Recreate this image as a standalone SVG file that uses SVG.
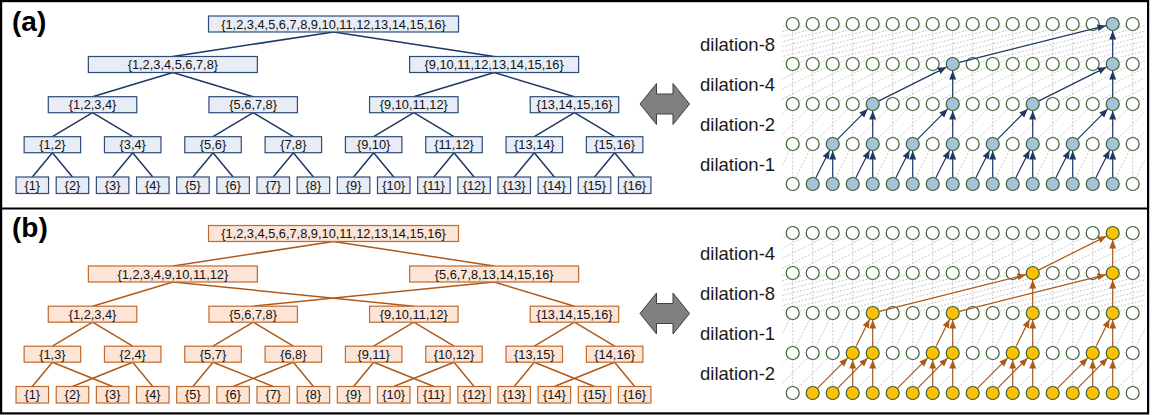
<svg xmlns="http://www.w3.org/2000/svg" width="1152" height="415" viewBox="0 0 1152 415">
<defs>
<style>
.na{fill:#E7ECF5;stroke:#2F4B78;stroke-width:1.2}
.nb{fill:#FCE4D6;stroke:#BF6A2E;stroke-width:1.2}
.t{font-family:"Liberation Sans",Arial,sans-serif;font-size:12.8px;fill:#111;text-anchor:middle}
.ea{stroke:#1F3864;stroke-width:1.5;fill:none}
.eb{stroke:#B05A1A;stroke-width:1.5;fill:none}
.dl{fill:none;stroke:#BDBDBD;stroke-width:0.8;stroke-dasharray:2 1.6}
.c{fill:#fff;stroke:#3B6132;stroke-width:1.2}
.fa{fill:#A7C1DB}
.fb{fill:#FFC000}
.aa{stroke:#1F3864;stroke-width:1.2;fill:none;marker-end:url(#ma)}
.ab{stroke:#B05A1A;stroke-width:1.2;fill:none;marker-end:url(#mb)}
.lbl{font-family:"Liberation Sans",Arial,sans-serif;font-size:18.5px;fill:#1a1a1a}
.tag{font-family:"Liberation Sans",Arial,sans-serif;font-weight:bold;font-size:28px;fill:#000}
.dbl{fill:#808080;stroke:#404040;stroke-width:1}
</style>
<marker id="ma" markerUnits="userSpaceOnUse" markerWidth="9" markerHeight="8" refX="8.5" refY="4" orient="auto"><path d="M0,0.5 L8.5,4 L0,7.5 z" fill="#1F3864"/></marker>
<marker id="mb" markerUnits="userSpaceOnUse" markerWidth="9" markerHeight="8" refX="8.5" refY="4" orient="auto"><path d="M0,0.5 L8.5,4 L0,7.5 z" fill="#B05A1A"/></marker>
<clipPath id="gc" clipPathUnits="userSpaceOnUse"><rect x="-11" y="0" width="363" height="200"/></clipPath>
</defs>
<rect x="0" y="0" width="1152" height="415" fill="#fff"/>
<rect x="1.1" y="1.1" width="1147" height="412.3" fill="#fff" stroke="#000" stroke-width="2.2"/>
<line x1="1" y1="208.5" x2="1148" y2="208.5" stroke="#000" stroke-width="2.2"/>
<text class="tag" x="12" y="31">(a)</text>
<text class="tag" x="12" y="237">(b)</text>

<!-- ===== Tree (a) ===== -->
<g id="tree-a-connectors">
<path class="ea" d="M333.5,32L172.86,56.5M333.5,32L494.14,56.5M172.86,72.5L92.54,96.7M172.86,72.5L253.18,96.7M494.14,72.5L413.82,96.7M494.14,72.5L574.46,96.7M92.54,112.7L52.38,136.7M92.54,112.7L132.7,136.7M253.18,112.7L213.02,136.7M253.18,112.7L293.34,136.7M413.82,112.7L373.66,136.7M413.82,112.7L453.98,136.7M574.46,112.7L534.3,136.7M574.46,112.7L614.62,136.7M52.38,152.7L32.3,177M52.38,152.7L72.46,177M132.7,152.7L112.62,177M132.7,152.7L152.78,177M213.02,152.7L192.94,177M213.02,152.7L233.1,177M293.34,152.7L273.26,177M293.34,152.7L313.42,177M373.66,152.7L353.58,177M373.66,152.7L393.74,177M453.98,152.7L433.9,177M453.98,152.7L474.06,177M534.3,152.7L514.22,177M534.3,152.7L554.38,177M614.62,152.7L594.54,177M614.62,152.7L634.7,177"/>
</g>
<g id="tree-a">
<g id="a-root"><rect class="na" x="208.5" y="16" width="250" height="16"/><text class="t" x="333.5" y="28.6">{1,2,3,4,5,6,7,8,9,10,11,12,13,14,15,16}</text></g>
<g id="a-l1-0"><rect class="na" x="88.36" y="56.5" width="169" height="16"/><text class="t" x="172.86" y="69.1">{1,2,3,4,5,6,7,8}</text></g>
<g id="a-l1-1"><rect class="na" x="409.64" y="56.5" width="169" height="16"/><text class="t" x="494.14" y="69.1">{9,10,11,12,13,14,15,16}</text></g>
<g id="a-l2-0"><rect class="na" x="48.29" y="96.7" width="88.5" height="16"/><text class="t" x="92.54" y="109.3">{1,2,3,4}</text></g>
<g id="a-l2-1"><rect class="na" x="208.93" y="96.7" width="88.5" height="16"/><text class="t" x="253.18" y="109.3">{5,6,7,8}</text></g>
<g id="a-l2-2"><rect class="na" x="369.57" y="96.7" width="88.5" height="16"/><text class="t" x="413.82" y="109.3">{9,10,11,12}</text></g>
<g id="a-l2-3"><rect class="na" x="530.21" y="96.7" width="88.5" height="16"/><text class="t" x="574.46" y="109.3">{13,14,15,16}</text></g>
<g id="a-l3-0"><rect class="na" x="24.13" y="136.7" width="56.5" height="16"/><text class="t" x="52.38" y="149.3">{1,2}</text></g>
<g id="a-l3-1"><rect class="na" x="104.45" y="136.7" width="56.5" height="16"/><text class="t" x="132.7" y="149.3">{3,4}</text></g>
<g id="a-l3-2"><rect class="na" x="184.77" y="136.7" width="56.5" height="16"/><text class="t" x="213.02" y="149.3">{5,6}</text></g>
<g id="a-l3-3"><rect class="na" x="265.09" y="136.7" width="56.5" height="16"/><text class="t" x="293.34" y="149.3">{7,8}</text></g>
<g id="a-l3-4"><rect class="na" x="345.41" y="136.7" width="56.5" height="16"/><text class="t" x="373.66" y="149.3">{9,10}</text></g>
<g id="a-l3-5"><rect class="na" x="425.73" y="136.7" width="56.5" height="16"/><text class="t" x="453.98" y="149.3">{11,12}</text></g>
<g id="a-l3-6"><rect class="na" x="506.05" y="136.7" width="56.5" height="16"/><text class="t" x="534.3" y="149.3">{13,14}</text></g>
<g id="a-l3-7"><rect class="na" x="586.37" y="136.7" width="56.5" height="16"/><text class="t" x="614.62" y="149.3">{15,16}</text></g>
<g id="a-leaf-1"><rect class="na" x="16.05" y="177" width="32.5" height="16.5"/><text class="t" x="32.3" y="189.8">{1}</text></g>
<g id="a-leaf-2"><rect class="na" x="56.21" y="177" width="32.5" height="16.5"/><text class="t" x="72.46" y="189.8">{2}</text></g>
<g id="a-leaf-3"><rect class="na" x="96.37" y="177" width="32.5" height="16.5"/><text class="t" x="112.62" y="189.8">{3}</text></g>
<g id="a-leaf-4"><rect class="na" x="136.53" y="177" width="32.5" height="16.5"/><text class="t" x="152.78" y="189.8">{4}</text></g>
<g id="a-leaf-5"><rect class="na" x="176.69" y="177" width="32.5" height="16.5"/><text class="t" x="192.94" y="189.8">{5}</text></g>
<g id="a-leaf-6"><rect class="na" x="216.85" y="177" width="32.5" height="16.5"/><text class="t" x="233.1" y="189.8">{6}</text></g>
<g id="a-leaf-7"><rect class="na" x="257.01" y="177" width="32.5" height="16.5"/><text class="t" x="273.26" y="189.8">{7}</text></g>
<g id="a-leaf-8"><rect class="na" x="297.17" y="177" width="32.5" height="16.5"/><text class="t" x="313.42" y="189.8">{8}</text></g>
<g id="a-leaf-9"><rect class="na" x="337.33" y="177" width="32.5" height="16.5"/><text class="t" x="353.58" y="189.8">{9}</text></g>
<g id="a-leaf-10"><rect class="na" x="377.49" y="177" width="32.5" height="16.5"/><text class="t" x="393.74" y="189.8">{10}</text></g>
<g id="a-leaf-11"><rect class="na" x="417.65" y="177" width="32.5" height="16.5"/><text class="t" x="433.9" y="189.8">{11}</text></g>
<g id="a-leaf-12"><rect class="na" x="457.81" y="177" width="32.5" height="16.5"/><text class="t" x="474.06" y="189.8">{12}</text></g>
<g id="a-leaf-13"><rect class="na" x="497.97" y="177" width="32.5" height="16.5"/><text class="t" x="514.22" y="189.8">{13}</text></g>
<g id="a-leaf-14"><rect class="na" x="538.13" y="177" width="32.5" height="16.5"/><text class="t" x="554.38" y="189.8">{14}</text></g>
<g id="a-leaf-15"><rect class="na" x="578.29" y="177" width="32.5" height="16.5"/><text class="t" x="594.54" y="189.8">{15}</text></g>
<g id="a-leaf-16"><rect class="na" x="618.45" y="177" width="32.5" height="16.5"/><text class="t" x="634.7" y="189.8">{16}</text></g>
</g>

<!-- ===== Tree (b) ===== -->
<g transform="translate(0,209.5)">
<g id="tree-b-connectors">
<path class="eb" d="M333.5,32L172.86,56.5M333.5,32L494.14,56.5M172.86,72.5L92.54,96.7M172.86,72.5L413.82,96.7M494.14,72.5L253.18,96.7M494.14,72.5L574.46,96.7M92.54,112.7L52.38,136.7M92.54,112.7L132.7,136.7M253.18,112.7L213.02,136.7M253.18,112.7L293.34,136.7M413.82,112.7L373.66,136.7M413.82,112.7L453.98,136.7M574.46,112.7L534.3,136.7M574.46,112.7L614.62,136.7M52.38,152.7L32.3,177M52.38,152.7L112.62,177M132.7,152.7L72.46,177M132.7,152.7L152.78,177M213.02,152.7L192.94,177M213.02,152.7L273.26,177M293.34,152.7L233.1,177M293.34,152.7L313.42,177M373.66,152.7L353.58,177M373.66,152.7L433.9,177M453.98,152.7L393.74,177M453.98,152.7L474.06,177M534.3,152.7L514.22,177M534.3,152.7L594.54,177M614.62,152.7L554.38,177M614.62,152.7L634.7,177"/>
</g>
<g id="tree-b">
<g id="b-root"><rect class="nb" x="208.5" y="16" width="250" height="16"/><text class="t" x="333.5" y="28.6">{1,2,3,4,5,6,7,8,9,10,11,12,13,14,15,16}</text></g>
<g id="b-l1-0"><rect class="nb" x="88.36" y="56.5" width="169" height="16"/><text class="t" x="172.86" y="69.1">{1,2,3,4,9,10,11,12}</text></g>
<g id="b-l1-1"><rect class="nb" x="409.64" y="56.5" width="169" height="16"/><text class="t" x="494.14" y="69.1">{5,6,7,8,13,14,15,16}</text></g>
<g id="b-l2-0"><rect class="nb" x="48.29" y="96.7" width="88.5" height="16"/><text class="t" x="92.54" y="109.3">{1,2,3,4}</text></g>
<g id="b-l2-1"><rect class="nb" x="208.93" y="96.7" width="88.5" height="16"/><text class="t" x="253.18" y="109.3">{5,6,7,8}</text></g>
<g id="b-l2-2"><rect class="nb" x="369.57" y="96.7" width="88.5" height="16"/><text class="t" x="413.82" y="109.3">{9,10,11,12}</text></g>
<g id="b-l2-3"><rect class="nb" x="530.21" y="96.7" width="88.5" height="16"/><text class="t" x="574.46" y="109.3">{13,14,15,16}</text></g>
<g id="b-l3-0"><rect class="nb" x="24.13" y="136.7" width="56.5" height="16"/><text class="t" x="52.38" y="149.3">{1,3}</text></g>
<g id="b-l3-1"><rect class="nb" x="104.45" y="136.7" width="56.5" height="16"/><text class="t" x="132.7" y="149.3">{2,4}</text></g>
<g id="b-l3-2"><rect class="nb" x="184.77" y="136.7" width="56.5" height="16"/><text class="t" x="213.02" y="149.3">{5,7}</text></g>
<g id="b-l3-3"><rect class="nb" x="265.09" y="136.7" width="56.5" height="16"/><text class="t" x="293.34" y="149.3">{6,8}</text></g>
<g id="b-l3-4"><rect class="nb" x="345.41" y="136.7" width="56.5" height="16"/><text class="t" x="373.66" y="149.3">{9,11}</text></g>
<g id="b-l3-5"><rect class="nb" x="425.73" y="136.7" width="56.5" height="16"/><text class="t" x="453.98" y="149.3">{10,12}</text></g>
<g id="b-l3-6"><rect class="nb" x="506.05" y="136.7" width="56.5" height="16"/><text class="t" x="534.3" y="149.3">{13,15}</text></g>
<g id="b-l3-7"><rect class="nb" x="586.37" y="136.7" width="56.5" height="16"/><text class="t" x="614.62" y="149.3">{14,16}</text></g>
<g id="b-leaf-1"><rect class="nb" x="16.05" y="177" width="32.5" height="16.5"/><text class="t" x="32.3" y="189.8">{1}</text></g>
<g id="b-leaf-2"><rect class="nb" x="56.21" y="177" width="32.5" height="16.5"/><text class="t" x="72.46" y="189.8">{2}</text></g>
<g id="b-leaf-3"><rect class="nb" x="96.37" y="177" width="32.5" height="16.5"/><text class="t" x="112.62" y="189.8">{3}</text></g>
<g id="b-leaf-4"><rect class="nb" x="136.53" y="177" width="32.5" height="16.5"/><text class="t" x="152.78" y="189.8">{4}</text></g>
<g id="b-leaf-5"><rect class="nb" x="176.69" y="177" width="32.5" height="16.5"/><text class="t" x="192.94" y="189.8">{5}</text></g>
<g id="b-leaf-6"><rect class="nb" x="216.85" y="177" width="32.5" height="16.5"/><text class="t" x="233.1" y="189.8">{6}</text></g>
<g id="b-leaf-7"><rect class="nb" x="257.01" y="177" width="32.5" height="16.5"/><text class="t" x="273.26" y="189.8">{7}</text></g>
<g id="b-leaf-8"><rect class="nb" x="297.17" y="177" width="32.5" height="16.5"/><text class="t" x="313.42" y="189.8">{8}</text></g>
<g id="b-leaf-9"><rect class="nb" x="337.33" y="177" width="32.5" height="16.5"/><text class="t" x="353.58" y="189.8">{9}</text></g>
<g id="b-leaf-10"><rect class="nb" x="377.49" y="177" width="32.5" height="16.5"/><text class="t" x="393.74" y="189.8">{10}</text></g>
<g id="b-leaf-11"><rect class="nb" x="417.65" y="177" width="32.5" height="16.5"/><text class="t" x="433.9" y="189.8">{11}</text></g>
<g id="b-leaf-12"><rect class="nb" x="457.81" y="177" width="32.5" height="16.5"/><text class="t" x="474.06" y="189.8">{12}</text></g>
<g id="b-leaf-13"><rect class="nb" x="497.97" y="177" width="32.5" height="16.5"/><text class="t" x="514.22" y="189.8">{13}</text></g>
<g id="b-leaf-14"><rect class="nb" x="538.13" y="177" width="32.5" height="16.5"/><text class="t" x="554.38" y="189.8">{14}</text></g>
<g id="b-leaf-15"><rect class="nb" x="578.29" y="177" width="32.5" height="16.5"/><text class="t" x="594.54" y="189.8">{15}</text></g>
<g id="b-leaf-16"><rect class="nb" x="618.45" y="177" width="32.5" height="16.5"/><text class="t" x="634.7" y="189.8">{16}</text></g>
</g>
</g>

<!-- double arrows -->
<polygon id="dbl-a" class="dbl" points="640,104 656.5,83.5 656.5,94 673,94 673,83.5 689.5,104 673,124.5 673,114 656.5,114 656.5,124.5"/>
<polygon id="dbl-b" class="dbl" transform="translate(0,209.5)" points="640,104 656.5,83.5 656.5,94 673,94 673,83.5 689.5,104 673,124.5 673,114 656.5,114 656.5,124.5"/>

<!-- labels -->
<text class="lbl" x="700" y="50.5">dilation-8</text>
<text class="lbl" x="700" y="90.5">dilation-4</text>
<text class="lbl" x="700" y="130.5">dilation-2</text>
<text class="lbl" x="700" y="170.5">dilation-1</text>
<text class="lbl" x="700" y="259.5">dilation-4</text>
<text class="lbl" x="700" y="299.5">dilation-8</text>
<text class="lbl" x="700" y="339.5">dilation-1</text>
<text class="lbl" x="700" y="379.5">dilation-2</text>

<!-- ===== Grid (a) ===== -->
<g id="grid-a" transform="translate(792.7,0)">
<path class="dl" clip-path="url(#gc)" d="M0,24V184M20,24V184M40,24V184M60,24V184M80,24V184M100,24V184M120,24V184M140,24V184M160,24V184M180,24V184M200,24V184M220,24V184M240,24V184M260,24V184M280,24V184M300,24V184M320,24V184M340,24V184
M-20,184l20,-40m0,40l20,-40m0,40l20,-40m0,40l20,-40m0,40l20,-40m0,40l20,-40m0,40l20,-40m0,40l20,-40m0,40l20,-40m0,40l20,-40m0,40l20,-40m0,40l20,-40m0,40l20,-40m0,40l20,-40m0,40l20,-40m0,40l20,-40m0,40l20,-40m0,40l20,-40m0,40l20,-40m0,40l20,-40m0,40
M-40,144l40,-40m-20,40l40,-40m-20,40l40,-40m-20,40l40,-40m-20,40l40,-40m-20,40l40,-40m-20,40l40,-40m-20,40l40,-40m-20,40l40,-40m-20,40l40,-40m-20,40l40,-40m-20,40l40,-40m-20,40l40,-40m-20,40l40,-40m-20,40l40,-40m-20,40l40,-40m-20,40l40,-40m-20,40l40,-40m-20,40l40,-40m-20,40l40,-40m-20,40
M-80,104l80,-40m-60,40l80,-40m-60,40l80,-40m-60,40l80,-40m-60,40l80,-40m-60,40l80,-40m-60,40l80,-40m-60,40l80,-40m-60,40l80,-40m-60,40l80,-40m-60,40l80,-40m-60,40l80,-40m-60,40l80,-40m-60,40l80,-40m-60,40l80,-40m-60,40l80,-40m-60,40l80,-40m-60,40l80,-40m-60,40l80,-40m-60,40l80,-40m-60,40l80,-40m-60,40l80,-40m-60,40
M-160,64l160,-40m-140,40l160,-40m-140,40l160,-40m-140,40l160,-40m-140,40l160,-40m-140,40l160,-40m-140,40l160,-40m-140,40l160,-40m-140,40l160,-40m-140,40l160,-40m-140,40l160,-40m-140,40l160,-40m-140,40l160,-40m-140,40l160,-40m-140,40l160,-40m-140,40l160,-40m-140,40l160,-40m-140,40l160,-40m-140,40l160,-40m-140,40l160,-40m-140,40l160,-40m-140,40l160,-40m-140,40l160,-40m-140,40l160,-40m-140,40l160,-40m-140,40l160,-40m-140,40"/>
<g id="a-row0">
<circle id="a0-0" class="c" cx="0" cy="184" r="6.5"/><circle id="a0-1" class="c fa" cx="20" cy="184" r="6.5"/><circle id="a0-2" class="c fa" cx="40" cy="184" r="6.5"/><circle id="a0-3" class="c fa" cx="60" cy="184" r="6.5"/><circle id="a0-4" class="c fa" cx="80" cy="184" r="6.5"/><circle id="a0-5" class="c fa" cx="100" cy="184" r="6.5"/><circle id="a0-6" class="c fa" cx="120" cy="184" r="6.5"/><circle id="a0-7" class="c fa" cx="140" cy="184" r="6.5"/><circle id="a0-8" class="c fa" cx="160" cy="184" r="6.5"/><circle id="a0-9" class="c fa" cx="180" cy="184" r="6.5"/><circle id="a0-10" class="c fa" cx="200" cy="184" r="6.5"/><circle id="a0-11" class="c fa" cx="220" cy="184" r="6.5"/><circle id="a0-12" class="c fa" cx="240" cy="184" r="6.5"/><circle id="a0-13" class="c fa" cx="260" cy="184" r="6.5"/><circle id="a0-14" class="c fa" cx="280" cy="184" r="6.5"/><circle id="a0-15" class="c fa" cx="300" cy="184" r="6.5"/><circle id="a0-16" class="c fa" cx="320" cy="184" r="6.5"/><circle id="a0-17" class="c" cx="340" cy="184" r="6.5"/>
</g>
<g id="a-row1">
<circle id="a1-0" class="c" cx="0" cy="144" r="6.5"/><circle id="a1-1" class="c" cx="20" cy="144" r="6.5"/><circle id="a1-2" class="c fa" cx="40" cy="144" r="6.5"/><circle id="a1-3" class="c" cx="60" cy="144" r="6.5"/><circle id="a1-4" class="c fa" cx="80" cy="144" r="6.5"/><circle id="a1-5" class="c" cx="100" cy="144" r="6.5"/><circle id="a1-6" class="c fa" cx="120" cy="144" r="6.5"/><circle id="a1-7" class="c" cx="140" cy="144" r="6.5"/><circle id="a1-8" class="c fa" cx="160" cy="144" r="6.5"/><circle id="a1-9" class="c" cx="180" cy="144" r="6.5"/><circle id="a1-10" class="c fa" cx="200" cy="144" r="6.5"/><circle id="a1-11" class="c" cx="220" cy="144" r="6.5"/><circle id="a1-12" class="c fa" cx="240" cy="144" r="6.5"/><circle id="a1-13" class="c" cx="260" cy="144" r="6.5"/><circle id="a1-14" class="c fa" cx="280" cy="144" r="6.5"/><circle id="a1-15" class="c" cx="300" cy="144" r="6.5"/><circle id="a1-16" class="c fa" cx="320" cy="144" r="6.5"/><circle id="a1-17" class="c" cx="340" cy="144" r="6.5"/>
</g>
<g id="a-row2">
<circle id="a2-0" class="c" cx="0" cy="104" r="6.5"/><circle id="a2-1" class="c" cx="20" cy="104" r="6.5"/><circle id="a2-2" class="c" cx="40" cy="104" r="6.5"/><circle id="a2-3" class="c" cx="60" cy="104" r="6.5"/><circle id="a2-4" class="c fa" cx="80" cy="104" r="6.5"/><circle id="a2-5" class="c" cx="100" cy="104" r="6.5"/><circle id="a2-6" class="c" cx="120" cy="104" r="6.5"/><circle id="a2-7" class="c" cx="140" cy="104" r="6.5"/><circle id="a2-8" class="c fa" cx="160" cy="104" r="6.5"/><circle id="a2-9" class="c" cx="180" cy="104" r="6.5"/><circle id="a2-10" class="c" cx="200" cy="104" r="6.5"/><circle id="a2-11" class="c" cx="220" cy="104" r="6.5"/><circle id="a2-12" class="c fa" cx="240" cy="104" r="6.5"/><circle id="a2-13" class="c" cx="260" cy="104" r="6.5"/><circle id="a2-14" class="c" cx="280" cy="104" r="6.5"/><circle id="a2-15" class="c" cx="300" cy="104" r="6.5"/><circle id="a2-16" class="c fa" cx="320" cy="104" r="6.5"/><circle id="a2-17" class="c" cx="340" cy="104" r="6.5"/>
</g>
<g id="a-row3">
<circle id="a3-0" class="c" cx="0" cy="64" r="6.5"/><circle id="a3-1" class="c" cx="20" cy="64" r="6.5"/><circle id="a3-2" class="c" cx="40" cy="64" r="6.5"/><circle id="a3-3" class="c" cx="60" cy="64" r="6.5"/><circle id="a3-4" class="c" cx="80" cy="64" r="6.5"/><circle id="a3-5" class="c" cx="100" cy="64" r="6.5"/><circle id="a3-6" class="c" cx="120" cy="64" r="6.5"/><circle id="a3-7" class="c" cx="140" cy="64" r="6.5"/><circle id="a3-8" class="c fa" cx="160" cy="64" r="6.5"/><circle id="a3-9" class="c" cx="180" cy="64" r="6.5"/><circle id="a3-10" class="c" cx="200" cy="64" r="6.5"/><circle id="a3-11" class="c" cx="220" cy="64" r="6.5"/><circle id="a3-12" class="c" cx="240" cy="64" r="6.5"/><circle id="a3-13" class="c" cx="260" cy="64" r="6.5"/><circle id="a3-14" class="c" cx="280" cy="64" r="6.5"/><circle id="a3-15" class="c" cx="300" cy="64" r="6.5"/><circle id="a3-16" class="c fa" cx="320" cy="64" r="6.5"/><circle id="a3-17" class="c" cx="340" cy="64" r="6.5"/>
</g>
<g id="a-row4">
<circle id="a4-0" class="c" cx="0" cy="24" r="6.5"/><circle id="a4-1" class="c" cx="20" cy="24" r="6.5"/><circle id="a4-2" class="c" cx="40" cy="24" r="6.5"/><circle id="a4-3" class="c" cx="60" cy="24" r="6.5"/><circle id="a4-4" class="c" cx="80" cy="24" r="6.5"/><circle id="a4-5" class="c" cx="100" cy="24" r="6.5"/><circle id="a4-6" class="c" cx="120" cy="24" r="6.5"/><circle id="a4-7" class="c" cx="140" cy="24" r="6.5"/><circle id="a4-8" class="c" cx="160" cy="24" r="6.5"/><circle id="a4-9" class="c" cx="180" cy="24" r="6.5"/><circle id="a4-10" class="c" cx="200" cy="24" r="6.5"/><circle id="a4-11" class="c" cx="220" cy="24" r="6.5"/><circle id="a4-12" class="c" cx="240" cy="24" r="6.5"/><circle id="a4-13" class="c" cx="260" cy="24" r="6.5"/><circle id="a4-14" class="c" cx="280" cy="24" r="6.5"/><circle id="a4-15" class="c" cx="300" cy="24" r="6.5"/><circle id="a4-16" class="c fa" cx="320" cy="24" r="6.5"/><circle id="a4-17" class="c" cx="340" cy="24" r="6.5"/>
</g>
<g id="grid-a-connectors">
<line class="aa" x1="23.13" y1="177.74" x2="36.87" y2="150.26"/><line class="aa" x1="40" y1="177" x2="40" y2="151"/>
<line class="aa" x1="63.13" y1="177.74" x2="76.87" y2="150.26"/><line class="aa" x1="80" y1="177" x2="80" y2="151"/>
<line class="aa" x1="103.13" y1="177.74" x2="116.87" y2="150.26"/><line class="aa" x1="120" y1="177" x2="120" y2="151"/>
<line class="aa" x1="143.13" y1="177.74" x2="156.87" y2="150.26"/><line class="aa" x1="160" y1="177" x2="160" y2="151"/>
<line class="aa" x1="183.13" y1="177.74" x2="196.87" y2="150.26"/><line class="aa" x1="200" y1="177" x2="200" y2="151"/>
<line class="aa" x1="223.13" y1="177.74" x2="236.87" y2="150.26"/><line class="aa" x1="240" y1="177" x2="240" y2="151"/>
<line class="aa" x1="263.13" y1="177.74" x2="276.87" y2="150.26"/><line class="aa" x1="280" y1="177" x2="280" y2="151"/>
<line class="aa" x1="303.13" y1="177.74" x2="316.87" y2="150.26"/><line class="aa" x1="320" y1="177" x2="320" y2="151"/>
<line class="aa" x1="44.95" y1="139.05" x2="75.05" y2="108.95"/><line class="aa" x1="80" y1="137" x2="80" y2="111"/>
<line class="aa" x1="124.95" y1="139.05" x2="155.05" y2="108.95"/><line class="aa" x1="160" y1="137" x2="160" y2="111"/>
<line class="aa" x1="204.95" y1="139.05" x2="235.05" y2="108.95"/><line class="aa" x1="240" y1="137" x2="240" y2="111"/>
<line class="aa" x1="284.95" y1="139.05" x2="315.05" y2="108.95"/><line class="aa" x1="320" y1="137" x2="320" y2="111"/>
<line class="aa" x1="86.26" y1="100.87" x2="153.74" y2="67.13"/><line class="aa" x1="160" y1="97" x2="160" y2="71"/>
<line class="aa" x1="246.26" y1="100.87" x2="313.74" y2="67.13"/><line class="aa" x1="320" y1="97" x2="320" y2="71"/>
<line class="aa" x1="166.79" y1="62.3" x2="313.21" y2="25.7"/><line class="aa" x1="320" y1="57" x2="320" y2="31"/>
</g>
</g>

<!-- ===== Grid (b) ===== -->
<g id="grid-b" transform="translate(792.7,209)">
<path class="dl" clip-path="url(#gc)" d="M0,24V184M20,24V184M40,24V184M60,24V184M80,24V184M100,24V184M120,24V184M140,24V184M160,24V184M180,24V184M200,24V184M220,24V184M240,24V184M260,24V184M280,24V184M300,24V184M320,24V184M340,24V184
M-40,184l40,-40m-20,40l40,-40m-20,40l40,-40m-20,40l40,-40m-20,40l40,-40m-20,40l40,-40m-20,40l40,-40m-20,40l40,-40m-20,40l40,-40m-20,40l40,-40m-20,40l40,-40m-20,40l40,-40m-20,40l40,-40m-20,40l40,-40m-20,40l40,-40m-20,40l40,-40m-20,40l40,-40m-20,40l40,-40m-20,40l40,-40m-20,40l40,-40m-20,40
M-20,144l20,-40m0,40l20,-40m0,40l20,-40m0,40l20,-40m0,40l20,-40m0,40l20,-40m0,40l20,-40m0,40l20,-40m0,40l20,-40m0,40l20,-40m0,40l20,-40m0,40l20,-40m0,40l20,-40m0,40l20,-40m0,40l20,-40m0,40l20,-40m0,40l20,-40m0,40l20,-40m0,40l20,-40m0,40l20,-40m0,40
M-160,104l160,-40m-140,40l160,-40m-140,40l160,-40m-140,40l160,-40m-140,40l160,-40m-140,40l160,-40m-140,40l160,-40m-140,40l160,-40m-140,40l160,-40m-140,40l160,-40m-140,40l160,-40m-140,40l160,-40m-140,40l160,-40m-140,40l160,-40m-140,40l160,-40m-140,40l160,-40m-140,40l160,-40m-140,40l160,-40m-140,40l160,-40m-140,40l160,-40m-140,40l160,-40m-140,40l160,-40m-140,40l160,-40m-140,40l160,-40m-140,40l160,-40m-140,40
M-80,64l80,-40m-60,40l80,-40m-60,40l80,-40m-60,40l80,-40m-60,40l80,-40m-60,40l80,-40m-60,40l80,-40m-60,40l80,-40m-60,40l80,-40m-60,40l80,-40m-60,40l80,-40m-60,40l80,-40m-60,40l80,-40m-60,40l80,-40m-60,40l80,-40m-60,40l80,-40m-60,40l80,-40m-60,40l80,-40m-60,40l80,-40m-60,40l80,-40m-60,40l80,-40m-60,40l80,-40m-60,40"/>
<g id="b-row0">
<circle id="b0-0" class="c" cx="0" cy="184" r="6.5"/><circle id="b0-1" class="c fb" cx="20" cy="184" r="6.5"/><circle id="b0-2" class="c fb" cx="40" cy="184" r="6.5"/><circle id="b0-3" class="c fb" cx="60" cy="184" r="6.5"/><circle id="b0-4" class="c fb" cx="80" cy="184" r="6.5"/><circle id="b0-5" class="c fb" cx="100" cy="184" r="6.5"/><circle id="b0-6" class="c fb" cx="120" cy="184" r="6.5"/><circle id="b0-7" class="c fb" cx="140" cy="184" r="6.5"/><circle id="b0-8" class="c fb" cx="160" cy="184" r="6.5"/><circle id="b0-9" class="c fb" cx="180" cy="184" r="6.5"/><circle id="b0-10" class="c fb" cx="200" cy="184" r="6.5"/><circle id="b0-11" class="c fb" cx="220" cy="184" r="6.5"/><circle id="b0-12" class="c fb" cx="240" cy="184" r="6.5"/><circle id="b0-13" class="c fb" cx="260" cy="184" r="6.5"/><circle id="b0-14" class="c fb" cx="280" cy="184" r="6.5"/><circle id="b0-15" class="c fb" cx="300" cy="184" r="6.5"/><circle id="b0-16" class="c fb" cx="320" cy="184" r="6.5"/><circle id="b0-17" class="c" cx="340" cy="184" r="6.5"/>
</g>
<g id="b-row1">
<circle id="b1-0" class="c" cx="0" cy="144" r="6.5"/><circle id="b1-1" class="c" cx="20" cy="144" r="6.5"/><circle id="b1-2" class="c" cx="40" cy="144" r="6.5"/><circle id="b1-3" class="c fb" cx="60" cy="144" r="6.5"/><circle id="b1-4" class="c fb" cx="80" cy="144" r="6.5"/><circle id="b1-5" class="c" cx="100" cy="144" r="6.5"/><circle id="b1-6" class="c" cx="120" cy="144" r="6.5"/><circle id="b1-7" class="c fb" cx="140" cy="144" r="6.5"/><circle id="b1-8" class="c fb" cx="160" cy="144" r="6.5"/><circle id="b1-9" class="c" cx="180" cy="144" r="6.5"/><circle id="b1-10" class="c" cx="200" cy="144" r="6.5"/><circle id="b1-11" class="c fb" cx="220" cy="144" r="6.5"/><circle id="b1-12" class="c fb" cx="240" cy="144" r="6.5"/><circle id="b1-13" class="c" cx="260" cy="144" r="6.5"/><circle id="b1-14" class="c" cx="280" cy="144" r="6.5"/><circle id="b1-15" class="c fb" cx="300" cy="144" r="6.5"/><circle id="b1-16" class="c fb" cx="320" cy="144" r="6.5"/><circle id="b1-17" class="c" cx="340" cy="144" r="6.5"/>
</g>
<g id="b-row2">
<circle id="b2-0" class="c" cx="0" cy="104" r="6.5"/><circle id="b2-1" class="c" cx="20" cy="104" r="6.5"/><circle id="b2-2" class="c" cx="40" cy="104" r="6.5"/><circle id="b2-3" class="c" cx="60" cy="104" r="6.5"/><circle id="b2-4" class="c fb" cx="80" cy="104" r="6.5"/><circle id="b2-5" class="c" cx="100" cy="104" r="6.5"/><circle id="b2-6" class="c" cx="120" cy="104" r="6.5"/><circle id="b2-7" class="c" cx="140" cy="104" r="6.5"/><circle id="b2-8" class="c fb" cx="160" cy="104" r="6.5"/><circle id="b2-9" class="c" cx="180" cy="104" r="6.5"/><circle id="b2-10" class="c" cx="200" cy="104" r="6.5"/><circle id="b2-11" class="c" cx="220" cy="104" r="6.5"/><circle id="b2-12" class="c fb" cx="240" cy="104" r="6.5"/><circle id="b2-13" class="c" cx="260" cy="104" r="6.5"/><circle id="b2-14" class="c" cx="280" cy="104" r="6.5"/><circle id="b2-15" class="c" cx="300" cy="104" r="6.5"/><circle id="b2-16" class="c fb" cx="320" cy="104" r="6.5"/><circle id="b2-17" class="c" cx="340" cy="104" r="6.5"/>
</g>
<g id="b-row3">
<circle id="b3-0" class="c" cx="0" cy="64" r="6.5"/><circle id="b3-1" class="c" cx="20" cy="64" r="6.5"/><circle id="b3-2" class="c" cx="40" cy="64" r="6.5"/><circle id="b3-3" class="c" cx="60" cy="64" r="6.5"/><circle id="b3-4" class="c" cx="80" cy="64" r="6.5"/><circle id="b3-5" class="c" cx="100" cy="64" r="6.5"/><circle id="b3-6" class="c" cx="120" cy="64" r="6.5"/><circle id="b3-7" class="c" cx="140" cy="64" r="6.5"/><circle id="b3-8" class="c" cx="160" cy="64" r="6.5"/><circle id="b3-9" class="c" cx="180" cy="64" r="6.5"/><circle id="b3-10" class="c" cx="200" cy="64" r="6.5"/><circle id="b3-11" class="c" cx="220" cy="64" r="6.5"/><circle id="b3-12" class="c fb" cx="240" cy="64" r="6.5"/><circle id="b3-13" class="c" cx="260" cy="64" r="6.5"/><circle id="b3-14" class="c" cx="280" cy="64" r="6.5"/><circle id="b3-15" class="c" cx="300" cy="64" r="6.5"/><circle id="b3-16" class="c fb" cx="320" cy="64" r="6.5"/><circle id="b3-17" class="c" cx="340" cy="64" r="6.5"/>
</g>
<g id="b-row4">
<circle id="b4-0" class="c" cx="0" cy="24" r="6.5"/><circle id="b4-1" class="c" cx="20" cy="24" r="6.5"/><circle id="b4-2" class="c" cx="40" cy="24" r="6.5"/><circle id="b4-3" class="c" cx="60" cy="24" r="6.5"/><circle id="b4-4" class="c" cx="80" cy="24" r="6.5"/><circle id="b4-5" class="c" cx="100" cy="24" r="6.5"/><circle id="b4-6" class="c" cx="120" cy="24" r="6.5"/><circle id="b4-7" class="c" cx="140" cy="24" r="6.5"/><circle id="b4-8" class="c" cx="160" cy="24" r="6.5"/><circle id="b4-9" class="c" cx="180" cy="24" r="6.5"/><circle id="b4-10" class="c" cx="200" cy="24" r="6.5"/><circle id="b4-11" class="c" cx="220" cy="24" r="6.5"/><circle id="b4-12" class="c" cx="240" cy="24" r="6.5"/><circle id="b4-13" class="c" cx="260" cy="24" r="6.5"/><circle id="b4-14" class="c" cx="280" cy="24" r="6.5"/><circle id="b4-15" class="c" cx="300" cy="24" r="6.5"/><circle id="b4-16" class="c fb" cx="320" cy="24" r="6.5"/><circle id="b4-17" class="c" cx="340" cy="24" r="6.5"/>
</g>
<g id="grid-b-connectors">
<line class="ab" x1="24.95" y1="179.05" x2="55.05" y2="148.95"/><line class="ab" x1="60" y1="177" x2="60" y2="151"/>
<line class="ab" x1="44.95" y1="179.05" x2="75.05" y2="148.95"/><line class="ab" x1="80" y1="177" x2="80" y2="151"/>
<line class="ab" x1="104.95" y1="179.05" x2="135.05" y2="148.95"/><line class="ab" x1="140" y1="177" x2="140" y2="151"/>
<line class="ab" x1="124.95" y1="179.05" x2="155.05" y2="148.95"/><line class="ab" x1="160" y1="177" x2="160" y2="151"/>
<line class="ab" x1="184.95" y1="179.05" x2="215.05" y2="148.95"/><line class="ab" x1="220" y1="177" x2="220" y2="151"/>
<line class="ab" x1="204.95" y1="179.05" x2="235.05" y2="148.95"/><line class="ab" x1="240" y1="177" x2="240" y2="151"/>
<line class="ab" x1="264.95" y1="179.05" x2="295.05" y2="148.95"/><line class="ab" x1="300" y1="177" x2="300" y2="151"/>
<line class="ab" x1="284.95" y1="179.05" x2="315.05" y2="148.95"/><line class="ab" x1="320" y1="177" x2="320" y2="151"/>
<line class="ab" x1="63.13" y1="137.74" x2="76.87" y2="110.26"/><line class="ab" x1="80" y1="137" x2="80" y2="111"/>
<line class="ab" x1="143.13" y1="137.74" x2="156.87" y2="110.26"/><line class="ab" x1="160" y1="137" x2="160" y2="111"/>
<line class="ab" x1="223.13" y1="137.74" x2="236.87" y2="110.26"/><line class="ab" x1="240" y1="137" x2="240" y2="111"/>
<line class="ab" x1="303.13" y1="137.74" x2="316.87" y2="110.26"/><line class="ab" x1="320" y1="137" x2="320" y2="111"/>
<line class="ab" x1="86.79" y1="102.3" x2="233.21" y2="65.7"/><line class="ab" x1="240" y1="97" x2="240" y2="71"/>
<line class="ab" x1="166.79" y1="102.3" x2="313.21" y2="65.7"/><line class="ab" x1="320" y1="97" x2="320" y2="71"/>
<line class="ab" x1="246.26" y1="60.87" x2="313.74" y2="27.13"/><line class="ab" x1="320" y1="57" x2="320" y2="31"/>
</g>
</g>
</svg>
